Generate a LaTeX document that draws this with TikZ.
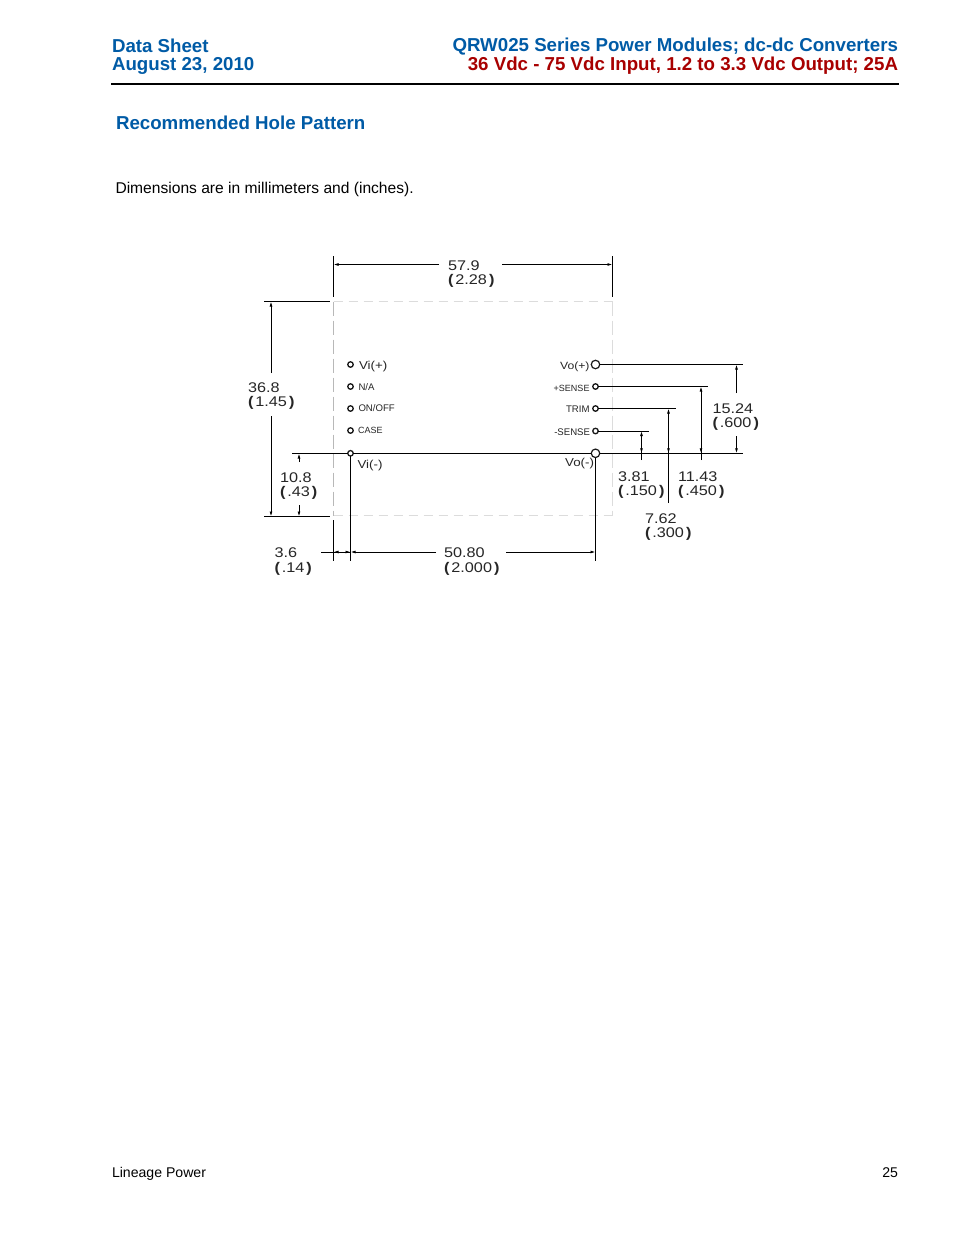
\documentclass[tikz,border=0pt]{standalone}
\usetikzlibrary{arrows.meta}
\usepackage{fontspec}
\setmainfont{Liberation Sans}
\newfontfamily\wide[FakeStretch=1.16]{Liberation Sans}
\definecolor{lblue}{HTML}{005BA6}
\definecolor{lred}{HTML}{A80000}
\definecolor{dashgray}{HTML}{B8B8B8}
\definecolor{dashlight}{HTML}{DCDCDC}
\newcommand{\pr}[1]{{\bfseries(}\kern2pt#1\kern2pt{\bfseries)}}
\begin{document}
\begin{tikzpicture}[x=1pt,y=-1pt,
  every node/.style={inner sep=0pt,outer sep=0pt},
  head/.style={font=\fontsize{18.7}{18.7}\selectfont\bfseries,anchor=base},
  sub/.style={font=\fontsize{18.7}{18.7}\selectfont\bfseries,text=lblue,anchor=base west},
  body/.style={font=\fontsize{15.6}{15.6}\selectfont,anchor=base west},
  foottext/.style={font=\fontsize{14.1}{14.1}\selectfont,anchor=base west},
  dimtext/.style={font=\wide\fontsize{14}{14}\selectfont,text=black!85,anchor=base west},
  pinbig/.style={font=\wide\fontsize{10.5}{10.5}\selectfont,text=black!85,anchor=base west},
  pinvi/.style={font=\wide\fontsize{11.5}{11.5}\selectfont,text=black!85,anchor=base west},
  pinsmall/.style={font=\fontsize{9.6}{9.6}\selectfont,text=black!85,anchor=base west},
  pintight/.style={font=\fontsize{9}{9}\selectfont,text=black!85,anchor=base west},
  ln/.style={draw=black,line width=0.9pt},
  dimline/.style={draw=black,line width=0.8pt},
  tipend/.style={dimline,-{Latex[length=5pt,width=2.8pt]}},
  outlinev/.style={draw=dashgray,line width=0.7pt,dash pattern=on 14pt off 5pt},
  outlineh/.style={draw=dashlight,line width=0.8pt,dash pattern=on 9pt off 6pt},
  pinb/.style={circle,draw=black!90,line width=1.2pt,fill=white,minimum size=8.5pt},
  pins/.style={circle,draw=black!90,line width=1.3pt,fill=white,minimum size=5.5pt},
]
\useasboundingbox (0,0) rectangle (954,1235);
\fill[white] (0,0) rectangle (954,1235);

% header
\node[head,text=lblue,anchor=base west] (h1) at (112,52) {Data Sheet};
\node[head,text=lblue,anchor=base west] (h2) at (112,70) {August 23, 2010};
\node[head,text=lblue,anchor=base east] (h3) at (898,51) {QRW025 Series Power Modules; dc-dc Converters};
\node[head,text=lred,anchor=base east] (h4) at (898,70) {36 Vdc - 75 Vdc Input, 1.2 to 3.3 Vdc Output; 25A};
\coordinate (ruleL) at (111,84);
\coordinate (ruleR) at (899,84);
\draw[line width=1.5pt] (ruleL) -- (ruleR);
\node[sub] (title) at (116,129) {Recommended Hole Pattern};
\node[body] (note) at (115.5,193) {Dimensions are in millimeters and (inches).};
\node[foottext] (foot) at (112,1177) {Lineage Power};
\node[foottext,anchor=base east] (page) at (898,1177) {25};

% outline
\coordinate (oTL) at (333.5,301.5);
\coordinate (oTR) at (612.5,301.5);
\coordinate (oBL) at (333.5,515.5);
\coordinate (oBR) at (612.5,515.5);
\draw[outlineh] (oTL) -- (oTR);
\draw[outlineh] (oBL) -- (oBR);
\draw[outlinev] (oTL) -- (oBL);
\draw[outlinev,draw=dashlight] (oTR) -- (oBR);

% named points
\coordinate (topLa) at (333.5,256); \coordinate (topLb) at (333.5,297);
\coordinate (topRa) at (612.5,256); \coordinate (topRb) at (612.5,297);
\coordinate (topD1) at (439,264.5); \coordinate (topD1e) at (333.5,264.5);
\coordinate (topD2) at (502,264.5); \coordinate (topD2e) at (612.5,264.5);
\coordinate (extTa) at (264,301.5); \coordinate (extTb) at (330,301.5);
\coordinate (extBa) at (264,516.5); \coordinate (extBb) at (330,516.5);
\coordinate (d368a) at (271,373);   \coordinate (d368ae) at (271,301.5);
\coordinate (d368b) at (271,416);   \coordinate (d368be) at (271,516.5);
\coordinate (d108a) at (299,462);   \coordinate (d108ae) at (299,453.5);
\coordinate (d108b) at (299,505);   \coordinate (d108be) at (299,516.5);
\coordinate (botLa) at (333.5,520); \coordinate (botLb) at (333.5,560.5);
\coordinate (viEnd) at (350.5,560.5);
\coordinate (voEnd) at (595.5,560.5);
\coordinate (d36a) at (321,552);    \coordinate (d36ae) at (333.5,552);
\coordinate (d36m) at (350.5,552);
\coordinate (d508a) at (436,552);
\coordinate (d508b) at (506,552);   \coordinate (d508be) at (595.5,552);

% pins
\node[pins] (p1) at (350.5,364.5) {};
\node[pins] (p2) at (350.5,386.5) {};
\node[pins] (p3) at (350.5,408.5) {};
\node[pins] (p4) at (350.5,430.5) {};
\coordinate (baseL) at (292,453.3);
\coordinate (baseR) at (743,453.3);
\coordinate (voPlusR) at (743,364.5);
\coordinate (senseR) at (708,386.5);
\coordinate (trimR) at (676,408.5);
\coordinate (msenseR) at (649,431);
\coordinate (d152a) at (736.5,393); \coordinate (d152ae) at (736.5,364.5);
\coordinate (d152b) at (736.5,436); \coordinate (d152be) at (736.5,453.3);
\coordinate (d114t) at (701,386.5); \coordinate (d114b) at (701,460);
\coordinate (d114m) at (701,446);
\coordinate (d114e) at (701,453.3);
\coordinate (d76t) at (668.5,408.5); \coordinate (d76b) at (668.5,503);
\coordinate (d76m) at (668.5,440);
\coordinate (d76e) at (668.5,453.3);
\coordinate (d38t) at (641.5,431); \coordinate (d38b) at (641.5,460);
\coordinate (d38m) at (641.5,442);
\coordinate (d38e) at (641.5,453.3);
\node[pinb] (vop) at (595.5,364.5) {};
\node[pins] (sp) at (595.5,386.5) {};
\node[pins] (tr) at (595.5,408.5) {};
\node[pins] (sm) at (595.5,431) {};
\node[pinb] (vom) at (595.5,453.3) {};
\node[pins] (vim) at (350.5,453.3) {};

% connectors
\draw[dimline] (topLa) -- (topLb);
\draw[dimline] (topRa) -- (topRb);
\draw[tipend] (topD1) -- (topD1e);
\draw[tipend] (topD2) -- (topD2e);
\draw[ln] (extTa) -- (extTb);
\draw[ln] (extBa) -- (extBb);
\draw[tipend] (d368a) -- (d368ae);
\draw[tipend] (d368b) -- (d368be);
\draw[tipend] (d108a) -- (d108ae);
\draw[tipend] (d108b) -- (d108be);
\draw[dimline] (botLa) -- (botLb);
\draw[ln] (baseL) -- (vim) (vim) -- (vom) (vom) -- (baseR);
\draw[dimline] (vim) -- (viEnd);
\draw[dimline] (vom) -- (voEnd);
\draw[dimline] (d36a) -- (d36m);
\draw[tipend] (d36m) -- (d36ae);
\draw[tipend] (d36ae) -- (d36m);
\draw[tipend] (d508a) -- (d36m);
\draw[tipend] (d508b) -- (d508be);
\draw[dimline] (vop) -- (voPlusR);
\draw[dimline] (sp) -- (senseR);
\draw[dimline] (tr) -- (trimR);
\draw[dimline] (sm) -- (msenseR);
\draw[tipend] (d152a) -- (d152ae);
\draw[tipend] (d152b) -- (d152be);
\draw[tipend] (d114b) -- (d114t);
\draw[tipend] (d114m) -- (d114e);
\draw[tipend] (d76b) -- (d76t);
\draw[tipend] (d76m) -- (d76e);
\draw[tipend] (d38b) -- (d38t);
\draw[tipend] (d38m) -- (d38e);

% dimension labels
\node[dimtext] (t1) at (448,270) {57.9};
\node[dimtext] (t1b) at (448,284) {\pr{2.28}};
\node[dimtext] (t2) at (248,392) {36.8};
\node[dimtext] (t2b) at (248,406.5) {\pr{1.45}};
\node[dimtext] (t3) at (280,482) {10.8};
\node[dimtext] (t3b) at (280,496) {\pr{.43}};
\node[dimtext] (t4) at (274.5,557.5) {3.6};
\node[dimtext] (t4b) at (274.5,572) {\pr{.14}};
\node[dimtext] (t5) at (444,557.5) {50.80};
\node[dimtext] (t5b) at (444,572) {\pr{2.000}};
\node[dimtext] (t6) at (712.5,413) {15.24};
\node[dimtext] (t6b) at (712.5,427.5) {\pr{.600}};
\node[dimtext] (t7) at (618,481) {3.81};
\node[dimtext] (t7b) at (618,495) {\pr{.150}};
\node[dimtext] (t8) at (678,481) {11.43};
\node[dimtext] (t8b) at (678,495) {\pr{.450}};
\node[dimtext] (t9) at (645,523.5) {7.62};
\node[dimtext] (t9b) at (645,537.5) {\pr{.300}};

% pin labels
\node[pinvi] (l1) at (359,369) {Vi(+)};
\node[pinsmall] (l2) at (358.5,390) {N/A};
\node[pinsmall] (l3) at (358.5,411.5) {ON/OFF};
\node[pintight] (l4) at (358,433.5) {CASE};
\node[pinvi] (l5) at (357.5,468) {Vi(-)};
\node[pinbig,anchor=base east] (r1) at (589.5,369) {Vo(+)};
\node[pintight,anchor=base east] (r2) at (589.5,391) {+SENSE};
\node[pinsmall,anchor=base east] (r3) at (589.5,412) {TRIM};
\node[pinsmall,anchor=base east] (r4) at (590,435) {-SENSE};
\node[pinvi,anchor=base east] (r5) at (594,466.5) {Vo(-)};
\end{tikzpicture}
\end{document}
